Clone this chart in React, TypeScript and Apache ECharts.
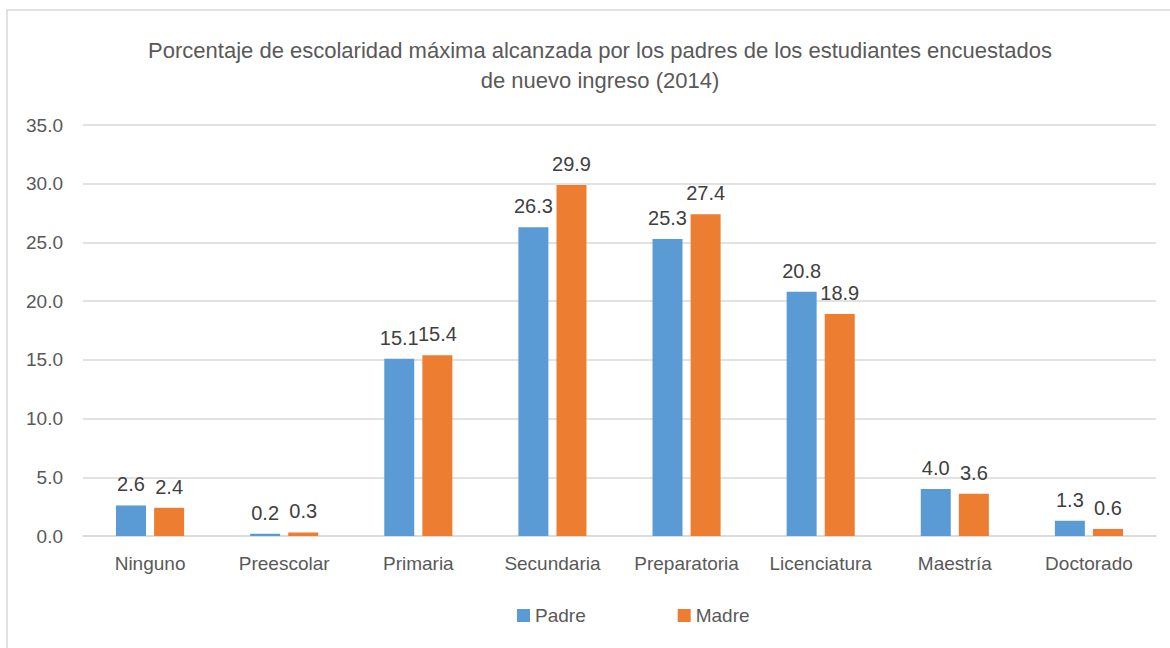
import React, { useEffect, useRef } from "react";
import * as echarts from "echarts";

const categories = ["Ninguno", "Preescolar", "Primaria", "Secundaria", "Preparatoria", "Licenciatura", "Maestría", "Doctorado"];
const padre = [2.6, 0.2, 15.1, 26.3, 25.3, 20.8, 4.0, 1.3];
const madre = [2.4, 0.3, 15.4, 29.9, 27.4, 18.9, 3.6, 0.6];
const titleText = "Porcentaje de escolaridad máxima alcanzada por los padres de los estudiantes encuestados\nde nuevo ingreso (2014)";

const FONT = "'Liberation Sans Narrow', 'Liberation Sans', Arial, sans-serif";

export default function App() {
  const ref = useRef<HTMLDivElement>(null);
  useEffect(() => {
    document.body.style.margin = "0";
    const chart = echarts.init(ref.current!, null, { renderer: "svg" });
    const label = {
      show: true,
      position: "top",
      distance: 11,
      color: "#404040",
      fontSize: 20,
      fontFamily: FONT,
      formatter: (p: any) => Number(p.value).toFixed(1),
    };
    chart.setOption({
      animation: false,
      backgroundColor: "#ffffff",
      textStyle: { fontFamily: FONT },
      graphic: [
        {
          type: "rect",
          shape: { x: 7, y: 10, width: 1170, height: 650 },
          style: { fill: "none", stroke: "#d9d9d9", lineWidth: 1.5 },
          silent: true,
        },
      ],
      title: {
        text: titleText,
        left: 595,
        textAlign: "center",
        top: 30,
        textStyle: { fontFamily: FONT, fontSize: 22, fontWeight: "normal", color: "#595959", lineHeight: 30 },
      },
      legend: {
        bottom: 18,
        left: 512,
        itemWidth: 13,
        itemHeight: 13,
        itemGap: 92,
        icon: "rect",
        textStyle: { fontFamily: FONT, fontSize: 19, color: "#595959" },
        data: ["Padre", "Madre"],
      },
      grid: { left: 83, right: 14, top: 125, bottom: 112, containLabel: false },
      xAxis: {
        type: "category",
        data: categories,
        axisLine: { lineStyle: { color: "#d9d9d9", width: 1.5 } },
        axisTick: { show: false },
        axisLabel: { color: "#595959", fontSize: 19, fontFamily: FONT, margin: 18, interval: 0 },
      },
      yAxis: {
        type: "value",
        min: 0,
        max: 35,
        interval: 5,
        axisLine: { show: false },
        axisTick: { show: false },
        splitLine: { lineStyle: { color: "#d9d9d9", width: 1.5 } },
        axisLabel: { color: "#595959", fontSize: 19, fontFamily: FONT, margin: 20, formatter: (v: number) => v.toFixed(1) },
      },
      series: [
        { name: "Padre", type: "bar", data: padre, barWidth: 30, barGap: "27%", itemStyle: { color: "#5B9BD5" }, label },
        { name: "Madre", type: "bar", data: madre, barWidth: 30, barGap: "27%", itemStyle: { color: "#ED7D31" }, label },
      ],
    });
    return () => chart.dispose();
  }, []);
  return <div ref={ref} style={{ width: 1170, height: 648 }} />;
}
